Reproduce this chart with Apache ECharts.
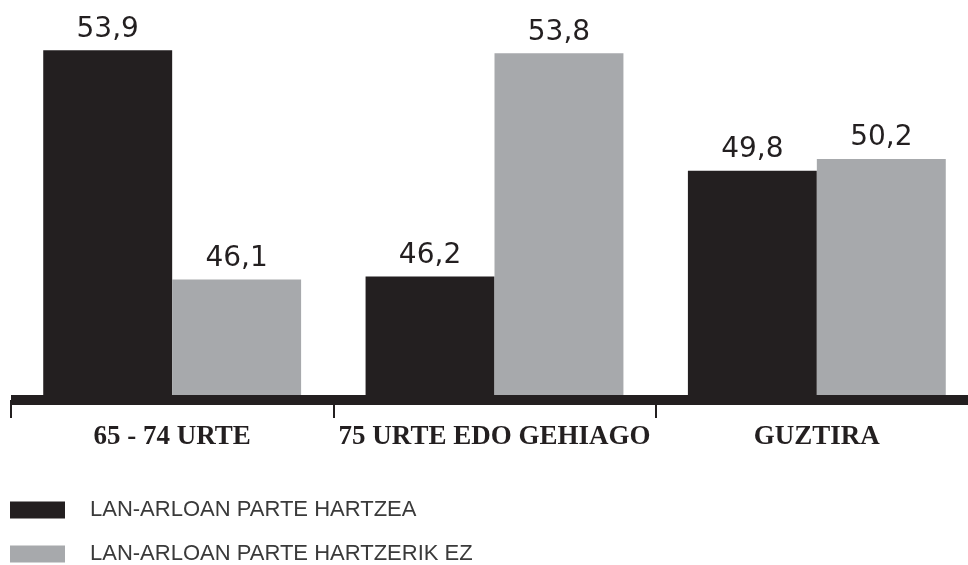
<!DOCTYPE html>
<html>
<head>
<meta charset="utf-8">
<script src="https://cdn.jsdelivr.net/npm/echarts@6/dist/echarts.min.js"></script>
<style>
html,body{margin:0;padding:0;background:#fff;}
#chart{width:968px;height:565px;}
</style>
</head>
<body>
<div id="chart"></div>
<script>
// datuak
var categories = ['65 - 74 URTE', '75 URTE EDO GEHIAGO', 'GUZTIRA'];
var seriesNames = ['LAN-ARLOAN PARTE HARTZEA', 'LAN-ARLOAN PARTE HARTZERIK EZ'];
var parte = [53.9, 46.2, 49.8];
var parteEz = [46.1, 53.8, 50.2];

var chart = echarts.init(document.getElementById('chart'));

var label = {
    show: true,
    position: 'top',
    distance: 7,
    color: '#231f20',
    fontFamily: 'DejaVu Sans',
    fontSize: 28,
    formatter: function (p) { return String(p.value).replace('.', ','); }
};

option = {
    animation: false,
    legend: {
        orient: 'vertical',
        left: 10,
        top: 499,
        padding: 0,
        itemWidth: 55,
        itemHeight: 17,
        itemGap: 22,
        icon: 'rect',
        textStyle: {
            fontFamily: 'Liberation Sans',
            fontSize: 22,
            color: '#3a3a3a',
            padding: [0, 0, 0, 20]
        },
        data: seriesNames
    },
    grid: {
        left: 11,
        width: 967,
        top: 18,
        bottom: 165,
        outerBoundsMode: 'none'
    },
    xAxis: {
        type: 'category',
        data: categories,
        z: 10,
        axisLine: { lineStyle: { color: '#231f20', width: 10, cap: 'butt' } },
        axisTick: { show: true, length: 18, lineStyle: { color: '#231f20', width: 2 } },
        axisLabel: {
            interval: 0,
            margin: 24,
            color: '#231f20',
            fontFamily: 'Liberation Serif',
            fontWeight: 'bold',
            fontSize: 27
        }
    },
    yAxis: {
        type: 'value',
        min: 42,
        max: 55,
        show: false
    },
    series: [{
        name: seriesNames[0],
        type: 'bar',
        data: parte,
        barGap: '0%',
        barCategoryGap: '20%',
        itemStyle: { color: '#231f20' },
        label: label
    }, {
        name: seriesNames[1],
        type: 'bar',
        data: parteEz,
        itemStyle: { color: '#a7a9ac' },
        label: label
    }]
};
chart.setOption(option);
</script>
</body>
</html>
